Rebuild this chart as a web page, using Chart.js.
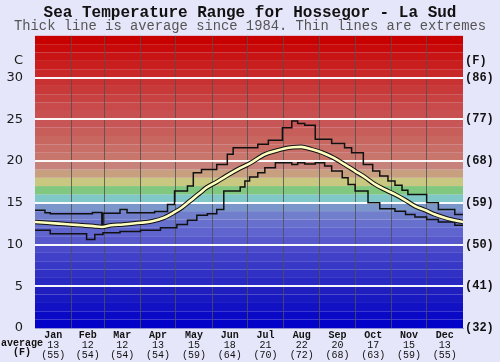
<!DOCTYPE html>
<html><head><meta charset="utf-8">
<script src="https://cdn.jsdelivr.net/npm/chart.js@4.4.1/dist/chart.umd.min.js"></script>
<style>html,body{margin:0;padding:0;background:#e6e6fa;overflow:hidden}canvas{display:block}</style>
</head><body><canvas id="c" width="500" height="362"></canvas>
<script>
const months = ['Jan','Feb','Mar','Apr','May','Jun','Jul','Aug','Sep','Oct','Nov','Dec'];
const monthStartDays = [0,31,59,90,120,151,181,212,243,273,304,334,365];
const monthAvgC = [13,12,12,13,15,18,21,22,20,17,15,13];
const monthAvgF = [55,54,54,54,59,64,70,72,68,63,59,55];
const tempTicksC = [0,5,10,15,20,25,30];
const unitTickC = 32;

const avgDays  = [0,10,20,30,40,50,57,65,75,90,100,110,118,125,132,140,146,155,163,173,183,196,205,213,220,227,236,245,253,264,273,281,290,298,307,316,324,333,341,352,365];
const avgTemps = [12.7,12.6,12.5,12.4,12.3,12.2,12.1,12.3,12.4,12.6,12.8,13.2,13.8,14.4,15.2,16.1,16.8,17.5,18.2,19.0,19.7,20.8,21.2,21.5,21.65,21.7,21.4,21.0,20.5,19.6,18.8,18.1,17.2,16.6,16.0,15.3,14.6,14.1,13.6,13.1,12.7];

const maxDays  = [0,8.5,13,49,57,58,72.5,78.5,102,113,119,130,135,142,155,164,169,190,199,211,219,224,230,239,253,264,270,280,288,294,301,307,313,318,334,344,358,365];
const maxTemps = [14.1,13.8,13.7,13.85,12.0,13.75,14.2,13.8,13.95,14.8,16.4,17.0,18.6,19.0,19.6,20.8,21.6,22.0,22.5,24.0,24.8,24.5,24.3,22.6,22.1,21.6,21.0,19.6,18.8,18.2,17.6,17.1,16.5,16.0,15.0,14.2,13.6,13.6];

const minDays  = [0,13,44,51,58,72.5,90,107,121,130,138,147,155,161,175,179,183,190,196,205,219,224,230,239,247,253,262,267,273,284,294,307,316,324,334,344,358,365];
const minTemps = [11.7,11.3,10.6,11.2,11.4,11.55,11.7,12.0,12.4,12.9,13.5,13.7,14.2,16.4,16.9,17.6,18.1,18.6,19.2,19.8,19.6,19.8,19.65,19.8,19.4,18.8,18.0,17.2,16.4,15.0,14.3,14.0,13.6,13.3,13.0,12.7,12.3,12.3];

// background colour per 1°C band (0-1 ... 34-35)
const bandColors = [
 'rgb(2,2,200)','rgb(10,10,198)','rgb(18,18,196)','rgb(25,25,194)','rgb(31,31,192)',
 'rgb(40,40,194)','rgb(48,48,196)','rgb(56,56,198)','rgb(64,64,200)','rgb(74,74,202)',
 'rgb(86,88,204)','rgb(96,100,206)','rgb(104,112,206)','rgb(112,126,204)','rgb(122,150,202)',
 'rgb(128,200,200)','rgb(128,200,128)','rgb(200,200,128)','rgb(200,160,128)','rgb(200,130,124)',
 'rgb(200,118,108)','rgb(200,110,102)','rgb(200,102,96)','rgb(200,94,90)','rgb(200,86,86)',
 'rgb(200,80,80)','rgb(200,74,74)','rgb(200,66,66)','rgb(200,58,58)','rgb(200,50,50)',
 'rgb(200,40,40)','rgb(200,30,30)','rgb(200,20,20)','rgb(200,10,10)','rgb(200,0,0)'
];

const monthCenters = months.map((m,i)=>(monthStartDays[i]+monthStartDays[i+1])/2);
const xTickValues = [];
monthStartDays.forEach((d,i)=>{ xTickValues.push(d); if(i<12) xTickValues.push(monthCenters[i]); });
const toPts = (xs,ys)=>xs.map((x,i)=>({x:x,y:ys[i]}));
const MONO = '"Liberation Mono", "Courier New", monospace';

const bandPlugin = {
  id:'bands',
  beforeDraw(chart){
    const {ctx, chartArea:a, scales:{y}} = chart;
    ctx.save();
    bandColors.forEach((c,i)=>{
      const top = y.getPixelForValue(i+1), bot = y.getPixelForValue(i);
      ctx.fillStyle = c;
      ctx.fillRect(a.left, top, a.right-a.left, bot-top);
    });
    ctx.restore();
  },
  afterDraw(chart){
    const ctx = chart.ctx;
    ctx.save();
    ctx.fillStyle = '#111';
    ctx.textAlign = 'center';
    ctx.textBaseline = 'middle';
    ctx.font = 'bold 10px ' + MONO;
    ctx.fillText('average', 22, 343);
    ctx.fillText('(F)', 22, 352.5);
    ctx.restore();
  }
};

new Chart(document.getElementById('c'), {
  type:'line',
  data:{
    datasets:[
      {data:toPts(maxDays,maxTemps), borderColor:'#111', borderWidth:1.5, stepped:true, pointRadius:0, fill:false, order:3},
      {data:toPts(minDays,minTemps), borderColor:'#111', borderWidth:1.5, stepped:true, pointRadius:0, fill:false, order:3},
      {data:toPts(avgDays,avgTemps), borderColor:'#111', borderWidth:4.6, tension:0.4, cubicInterpolationMode:'monotone', pointRadius:0, fill:false, order:2},
      {data:toPts(avgDays,avgTemps), borderColor:'#ffffc0', borderWidth:2.6, tension:0.4, cubicInterpolationMode:'monotone', pointRadius:0, fill:false, order:1}
    ]
  },
  options:{
    responsive:false, animation:false, devicePixelRatio:1,
    layout:{padding:0},
    plugins:{
      legend:{display:false}, tooltip:{enabled:false},
      title:{display:true, text:'Sea Temperature Range for Hossegor - La Sud', color:'#111',
        font:{family:MONO, size:16, weight:'bold', lineHeight:1}, padding:{top:4.5,bottom:0}},
      subtitle:{display:true, text:'Thick line is average since 1984. Thin lines are extremes', color:'#555',
        font:{family:MONO, size:13.8, weight:'normal', lineHeight:0.85}, padding:{top:0,bottom:3.6}}
    },
    scales:{
      x:{type:'linear', position:'bottom', min:0, max:365,
        afterBuildTicks:s=>{ s.ticks = xTickValues.map(v=>({value:v})); },
        afterFit:s=>{ s.height = 13; },
        ticks:{autoSkip:false, maxRotation:0, padding:1.5, color:'#111',
          font:{family:MONO, size:10, weight:'bold', lineHeight:1.1},
          callback:(v)=>{ const i = monthCenters.indexOf(v); return i>=0 ? months[i] : ''; }},
        grid:{drawTicks:false, lineWidth:1,
          color:c=>{ const v=c.tick && c.tick.value; return (monthStartDays.indexOf(v)>0 && v<365) ? 'rgba(80,80,80,0.8)' : 'rgba(0,0,0,0)'; }},
        border:{display:true, color:'rgba(150,150,215,1)', width:1}
      },
      xb:{type:'linear', position:'bottom', min:0, max:365,
        afterBuildTicks:s=>{ s.ticks = monthCenters.map(v=>({value:v})); },
        afterFit:s=>{ s.height = 21; },
        ticks:{autoSkip:false, maxRotation:0, padding:0, color:'#111',
          font:{family:MONO, size:10, weight:'normal', lineHeight:0.95},
          callback:(v)=>{ const i = monthCenters.indexOf(v); return i>=0 ? [String(monthAvgC[i]), '('+monthAvgF[i]+')'] : ''; }},
        grid:{display:false, drawTicks:false}, border:{display:false}
      },
      y:{type:'linear', position:'left', min:0, max:35,
        afterBuildTicks:s=>{ s.ticks = tempTicksC.concat([unitTickC]).map(v=>({value:v})); },
        afterFit:s=>{ s.width = 35; },
        ticks:{padding:12, color:'#1a1a1a', font:{family:'"DejaVu Sans", sans-serif', size:13},
          callback:v=> v===unitTickC ? 'C' : String(v)},
        grid:{drawTicks:false, lineWidth:2,
          color:c=>{ const v=c.tick && c.tick.value; return (v>0 && v<=30) ? 'rgba(255,255,255,0.95)' : 'rgba(0,0,0,0)'; }},
        border:{display:false}
      },
      y2:{type:'linear', position:'right', min:0, max:35,
        afterBuildTicks:s=>{ s.ticks = tempTicksC.concat([unitTickC]).map(v=>({value:v})); },
        afterFit:s=>{ s.width = 37; },
        ticks:{padding:2, color:'#111', font:{family:MONO, size:12, weight:'bold'},
          callback:v=> v===unitTickC ? '(F)' : '('+Math.round(v*9/5+32)+')'},
        grid:{display:false, drawTicks:false}, border:{display:false}
      }
    }
  },
  plugins:[bandPlugin]
});
</script>
</body></html>
